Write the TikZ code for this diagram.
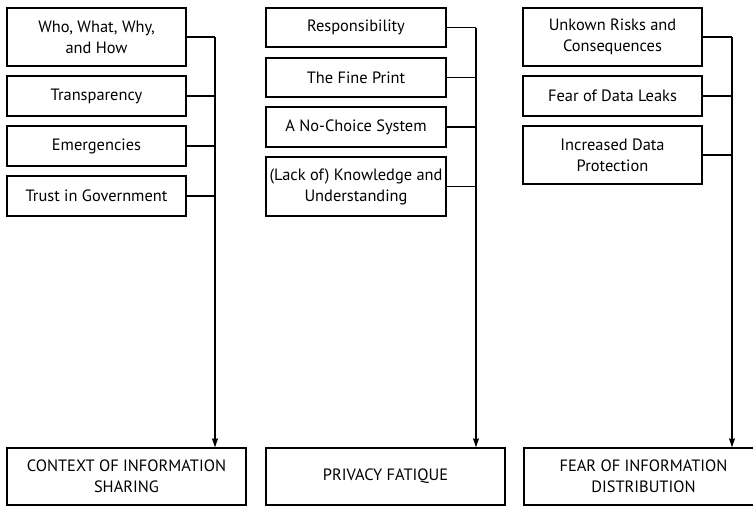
\documentclass[tikz,border=0pt]{standalone}
\usepackage{fontspec}
\setmainfont{PT Sans}
\usetikzlibrary{arrows.meta}
\begin{document}
\begin{tikzpicture}[x=1pt,y=-1pt,
  box/.style={draw,line width=1.3pt,inner sep=1pt,align=center,
    font=\fontsize{16.4pt}{21pt}\selectfont},
  link/.style={line width=1.2pt},
  arr/.style={line width=1.2pt,-{Stealth[length=9pt,width=6pt,inset=1pt]}}]
\clip (0,0) rectangle (753,506);
% column 1
\node[box,minimum width=179pt,minimum height=58pt] (a1) at (96.5,37) {Who, What, Why,\\and How};
\node[box,minimum width=179pt,minimum height=40pt] (a2) at (96.5,96) {Transparency};
\node[box,minimum width=179pt,minimum height=40pt] (a3) at (96.5,146) {Emergencies};
\node[box,minimum width=179pt,minimum height=40pt] (a4) at (96.5,196) {Trust in Government};
% column 2
\node[box,minimum width=180pt,minimum height=39pt] (b1) at (356,27.5) {Responsibility};
\node[box,minimum width=180pt,minimum height=39pt] (b2) at (356,77.5) {The Fine Print};
\node[box,minimum width=180pt,minimum height=40pt] (b3) at (356,127) {A No-Choice System};
\node[box,minimum width=180pt,minimum height=59pt] (b4) at (356,186.5) {(Lack of) Knowledge and\\Understanding};
% column 3
\node[box,minimum width=179pt,minimum height=58pt] (c1) at (612.5,37) {Unkown Risks and\\Consequences};
\node[box,minimum width=179pt,minimum height=40pt] (c2) at (612.5,96) {Fear of Data Leaks};
\node[box,minimum width=179pt,minimum height=58pt] (c3) at (612.5,155) {Increased Data\\Protection};
% bottom boxes
\node[box,minimum width=239pt,minimum height=57pt] (ta) at (126.5,476.5) {CONTEXT OF INFORMATION\\SHARING};
\node[box,minimum width=239pt,minimum height=57pt] (tb) at (385.5,476.5) {PRIVACY FATIQUE};
\node[box,minimum width=239pt,minimum height=57pt] (tc) at (643.5,476.5) {FEAR OF INFORMATION\\DISTRIBUTION};
% spines
\coordinate (sa) at (215,37);
\coordinate (sb) at (476,28);
\coordinate (sc) at (732,37);
\draw[arr] (sa) -- (sa |- ta.north);
\draw[arr] (sb) -- (sb |- tb.north);
\draw[arr] (sc) -- (sc |- tc.north);
\foreach \n in {a1,a2,a3,a4} \draw[link] (\n.east) -- (\n.east -| sa);
\foreach \n in {b1,b2,b3,b4} \draw[link] (\n.east) -- (\n.east -| sb);
\foreach \n in {c1,c2,c3} \draw[link] (\n.east) -- (\n.east -| sc);
\end{tikzpicture}
\end{document}
